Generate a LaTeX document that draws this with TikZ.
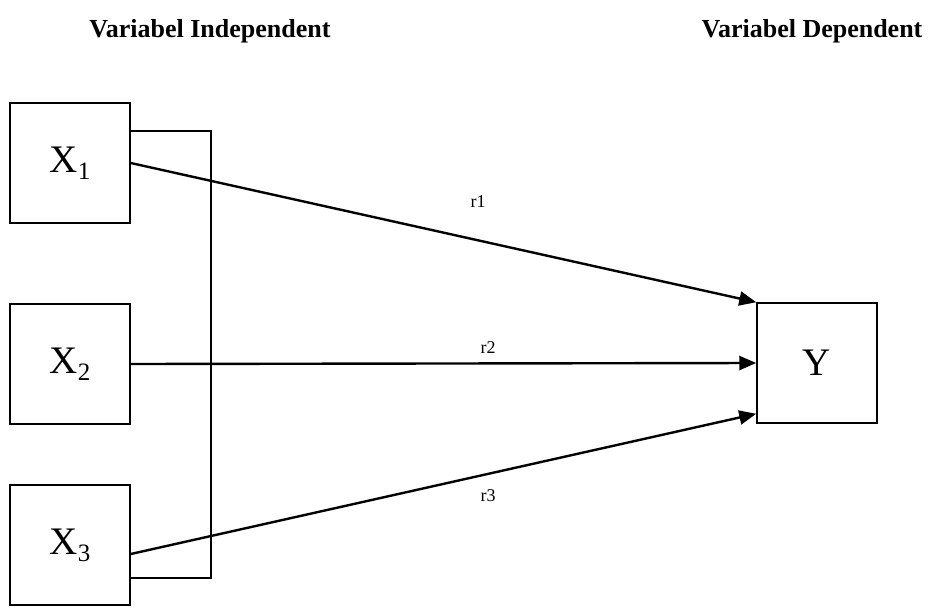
\documentclass[tikz,border=0pt]{standalone}
\usepackage{fontspec}
\setmainfont{Liberation Serif}
\usetikzlibrary{arrows.meta}
\newcommand{\varsub}[1]{\raisebox{-7pt}{\fontsize{25}{28}\selectfont #1}}
\tikzset{
  varbox/.style={draw,line width=1.5pt,minimum width=120pt,minimum height=120pt,inner sep=0pt,font=\fontsize{39}{42}\selectfont},
  header/.style={anchor=base,font=\fontsize{26}{30}\selectfont\bfseries},
  rlabel/.style={font=\fontsize{18}{20}\selectfont},
  corr/.style={line width=2.4pt,-{Triangle[length=17pt,width=14pt]}}
}
\begin{document}
\begin{tikzpicture}[x=1pt,y=-1pt]
\useasboundingbox (0,0) rectangle (950,608);
\node[header] (hind) at (210,37) {Variabel Independent};
\node[header] (hdep) at (812,37) {Variabel Dependent};
\node[varbox] (x1) at (70,163) {X\varsub{1}};
\node[varbox] (x2) at (70,364) {X\varsub{2}};
\node[varbox] (x3) at (70,545) {X\varsub{3}};
\node[varbox] (y) at (817,363) {Y};
\coordinate (brt) at (211,131);
\coordinate (brb) at (211,578);
\draw[line width=1.5pt] (x1.east |- brt) -- (brt) -- (brb) -- (x3.east |- brb);
\draw[corr] (x1.east) -- (y.north west);
\draw[corr] (x2.east) -- (y.west);
\draw[corr] ([yshift=-9pt]x3.east) -- ([yshift=10pt]y.south west);
\node[rlabel] (r1) at (478,202) {r1};
\node[rlabel] (r2) at (488,348) {r2};
\node[rlabel] (r3) at (488,496) {r3};
\end{tikzpicture}
\end{document}
